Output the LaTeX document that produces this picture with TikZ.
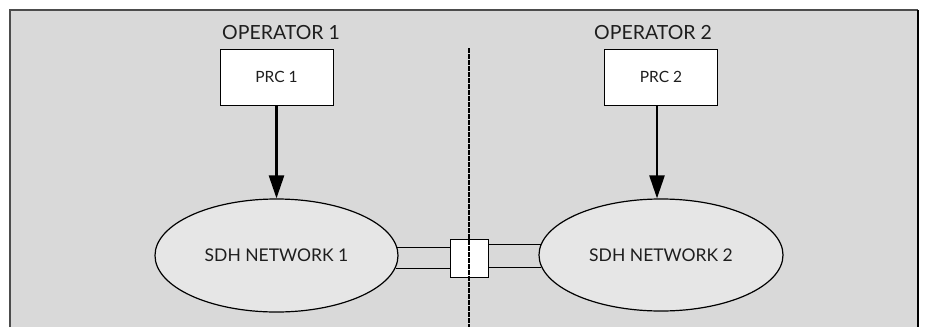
\documentclass[tikz,border=0pt]{standalone}
\usepackage{fontspec}
\setmainfont{Lato}
\usetikzlibrary{shapes.geometric,arrows.meta}
\definecolor{panelgrey}{HTML}{D9D9D9}
\definecolor{cloudgrey}{HTML}{E6E6E6}
\definecolor{inkgrey}{HTML}{1E1E1E}
\tikzset{
  opname/.style={font=\fontsize{19.5}{22}\selectfont, text=inkgrey, inner sep=0pt, anchor=base},
  clockbox/.style={draw=black, line width=1pt, fill=white, minimum width=113pt, minimum height=56pt,
    inner sep=0pt, font=\fontsize{15.5}{18}\selectfont, text=inkgrey},
  network/.style={ellipse, draw=black, line width=1.2pt, fill=cloudgrey, inner sep=0pt,
    font=\fontsize{17.5}{20}\selectfont, text=inkgrey},
  linkbox/.style={draw=black, line width=1pt, fill=white, minimum width=38pt, minimum height=38pt, inner sep=0pt},
  feed/.style={line width=2.5pt, -{Triangle[length=23pt,width=15pt]}},
  trunk/.style={line width=1pt},
  border/.style={dashed, line width=1.3pt, dash pattern=on 4.5pt off 1.5pt}
}
\begin{document}
\begin{tikzpicture}[x=1pt,y=-1pt]
  \useasboundingbox (0,0) rectangle (926,327);
  % grey panel, open at the bottom
  \fill[panelgrey] (10,10) rectangle (918,327);
  \draw[line width=1.5pt, black!70] (10,327) -- (10,10) -- (918,10);
  \draw[line width=2pt, black] (918,10) -- (918,327);

  % operator titles
  \node[opname] (op1) at (281,39) {OPERATOR 1};
  \node[opname] (op2) at (653,39) {OPERATOR 2};

  % primary reference clocks
  \node[clockbox] (prc1) at (276.5,77) {PRC 1};
  \node[clockbox] (prc2) at (661,77) {PRC 2};

  % SDH networks
  \node[network, minimum width=243pt, minimum height=113pt] (net1) at (276.5,255.5) {SDH NETWORK 1};
  \node[network, minimum width=244pt, minimum height=112pt] (net2) at (661,255) {SDH NETWORK 2};

  % interconnection point
  \node[linkbox] (lk) at (469,258) {};

  % interconnecting trunk
  \draw[trunk] (net1.4.5) -- (net1.4.5 -| lk.west);
  \draw[trunk] (net1.-6.6) -- (net1.-6.6 -| lk.west);
  \draw[trunk] (net2.175.8) -- (net2.175.8 -| lk.east);
  \draw[trunk] (net2.186.7) -- (net2.186.7 -| lk.east);

  % timing feeds
  \draw[feed] (prc1.south -| net1.north) -- (net1.north);
  \draw[feed] (prc2.south -| 657,0) -- (net2.north -| 657,0);

  % administrative boundary
  \coordinate (dtop) at (469,48);
  \coordinate (dbot) at (469,327);
  \draw[border] (dtop) -- (dbot);
\end{tikzpicture}
\end{document}
